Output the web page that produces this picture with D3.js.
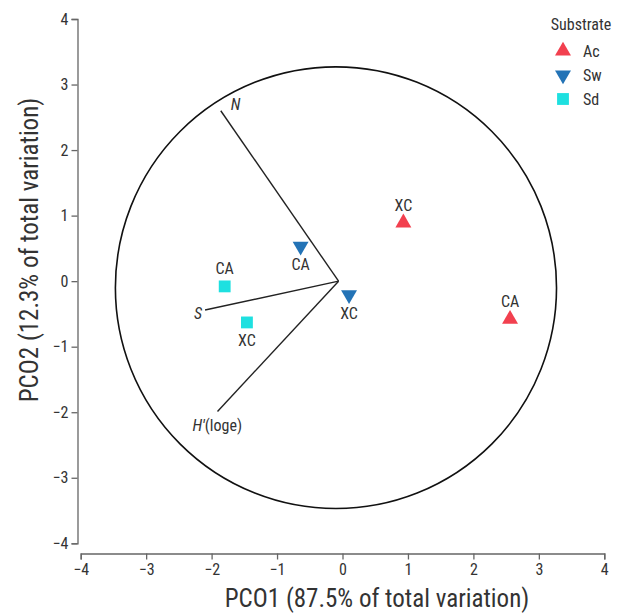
<!DOCTYPE html>
<html>
<head>
<meta charset="utf-8">
<script src="https://cdn.jsdelivr.net/npm/d3@7"></script>
<style>
  body { margin: 0; background: #fff; }
  text { font-family: "Liberation Sans Narrow", "Roboto Condensed", Roboto, sans-serif; fill: #333; }
</style>
</head>
<body>
<div id="chart"></div>
<script>
// Data
var substrates = ["Ac", "Sw", "Sd"];
var samples = [
    { "substrate": "Ac", "name": "XC", "x": 0.93, "y": 0.89, "label": "above" },
    { "substrate": "Ac", "name": "CA", "x": 2.56, "y": -0.58, "label": "above" },
    { "substrate": "Sw", "name": "CA", "x": -0.64, "y": 0.53, "label": "below" },
    { "substrate": "Sw", "name": "XC", "x": 0.10, "y": -0.21, "label": "below" },
    { "substrate": "Sd", "name": "CA", "x": -1.80, "y": -0.08, "label": "above" },
    { "substrate": "Sd", "name": "XC", "x": -1.46, "y": -0.63, "label": "below" }
];
var vectors = [
    { "name": "N", "x": -1.86, "y": 2.60 },
    { "name": "S", "x": -2.10, "y": -0.44 },
    { "name": "H", "x": -1.91, "y": -1.99 }
];
var vectorOrigin = [-0.06, 0];
var circleCentre = [-0.1, -0.1],
    circleRadius = 3.37;
var xTicks = [-4, -3, -2, -1, 0, 1, 2, 3, 4],
    yTicks = [-4, -3, -2, -1, 0, 1, 2, 3, 4];

var width = 624,
    height = 613;

var colour = d3.scaleOrdinal()
    .domain(substrates)
    .range(["#f2404f", "#2373b6", "#1ee0e0"]);

var symbolFor = {
    "Ac": d3.symbolTriangle,
    "Sw": d3.symbolTriangle,
    "Sd": d3.symbolSquare
};

var x = d3.scaleLinear().domain([-4, 4]).range([80.7, 604.3]);
var y = d3.scaleLinear().domain([-4, 4]).range([543.3, 19]);

var svg = d3.select("#chart")
    .append("svg")
    .attr("width", width)
    .attr("height", height);

// Axes (detached, range-frame style)

var minusFormat = function(d) { return d < 0 ? "\u2212" + Math.abs(d) : d; };

svg.append("g")
    .attr("transform", "translate(0,553.5)")
    .call(d3.axisBottom(x).tickValues(xTicks).tickSize(6).tickPadding(4).tickFormat(minusFormat));

svg.append("g")
    .attr("transform", "translate(77.5,0)")
    .call(d3.axisLeft(y).tickValues(yTicks).tickSize(6).tickPadding(3).tickFormat(minusFormat));

svg.selectAll(".domain, .tick line")
    .attr("stroke", "#666")
    .attr("stroke-width", 1.3);

svg.selectAll(".tick text")
    .attr("font-size", "16px")
    .attr("fill", "#444");

// Axis titles

svg.append("text")
    .attr("x", 377)
    .attr("y", 607)
    .attr("text-anchor", "middle")
    .attr("font-size", "25px")
    .attr("fill", "#444")
    .text("PCO1 (87.5% of total variation)");

svg.append("text")
    .attr("transform", "translate(38,250) rotate(-90)")
    .attr("text-anchor", "middle")
    .attr("font-size", "25px")
    .attr("fill", "#444")
    .text("PCO2 (12.3% of total variation)");

// Vector circle

svg.append("ellipse")
    .attr("cx", x(circleCentre[0]))
    .attr("cy", y(circleCentre[1]))
    .attr("rx", x(circleRadius) - x(0))
    .attr("ry", y(0) - y(circleRadius))
    .attr("fill", "none")
    .attr("stroke", "#111")
    .attr("stroke-width", 1.6);

// Vectors

svg.selectAll("line.vector")
    .data(vectors)
    .enter().append("line")
    .attr("class", "vector")
    .attr("x1", x(vectorOrigin[0]))
    .attr("y1", y(vectorOrigin[1]))
    .attr("x2", function(d) { return x(d.x); })
    .attr("y2", function(d) { return y(d.y); })
    .attr("stroke", "#222")
    .attr("stroke-width", 1.4);

// Vector labels

svg.append("text")
    .attr("x", x(vectors[0].x) + 10)
    .attr("y", y(vectors[0].y) - 1)
    .attr("font-size", "16px")
    .attr("font-style", "italic")
    .text("N");

svg.append("text")
    .attr("x", x(vectors[1].x) - 3)
    .attr("y", y(vectors[1].y) + 9)
    .attr("font-size", "16px")
    .attr("font-style", "italic")
    .attr("text-anchor", "end")
    .text("S");

var hLabel = svg.append("text")
    .attr("x", x(vectors[2].x) - 25)
    .attr("y", y(vectors[2].y) + 19)
    .attr("font-size", "16px");
hLabel.append("tspan").attr("font-style", "italic").text("H\u2032");
hLabel.append("tspan").text("(loge)");

// Sample points

svg.selectAll("path.point")
    .data(samples)
    .enter().append("path")
    .attr("class", "point")
    .attr("d", function(d) {
        return d3.symbol().type(symbolFor[d.substrate]).size(d.substrate === "Sd" ? 140 : 110)();
    })
    .attr("transform", function(d) {
        var r = d.substrate === "Sw" ? " rotate(180)" : "";
        return "translate(" + x(d.x) + "," + y(d.y) + ")" + r;
    })
    .attr("fill", function(d) { return colour(d.substrate); });

svg.selectAll("text.point")
    .data(samples)
    .enter().append("text")
    .attr("class", "point")
    .attr("x", function(d) { return x(d.x); })
    .attr("y", function(d) { return y(d.y) + (d.label === "above" ? -12 : 24); })
    .attr("text-anchor", "middle")
    .attr("font-size", "16px")
    .text(function(d) { return d.name; });

// Legend

var legend = svg.append("g");

legend.append("text")
    .attr("x", 581)
    .attr("y", 30)
    .attr("text-anchor", "middle")
    .attr("font-size", "16px")
    .text("Substrate");

var legendItem = legend.selectAll("g.item")
    .data(substrates)
    .enter().append("g")
    .attr("class", "item")
    .attr("transform", function(d, i) { return "translate(563," + (51 + i * 24) + ")"; });

legendItem.append("path")
    .attr("d", function(d) {
        return d3.symbol().type(symbolFor[d]).size(d === "Sd" ? 140 : 110)();
    })
    .attr("transform", function(d) { return d === "Sw" ? "rotate(180)" : null; })
    .attr("fill", function(d) { return colour(d); });

legendItem.append("text")
    .attr("x", 20)
    .attr("y", 6)
    .attr("font-size", "16px")
    .text(function(d) { return d; });
</script>
</body>
</html>
